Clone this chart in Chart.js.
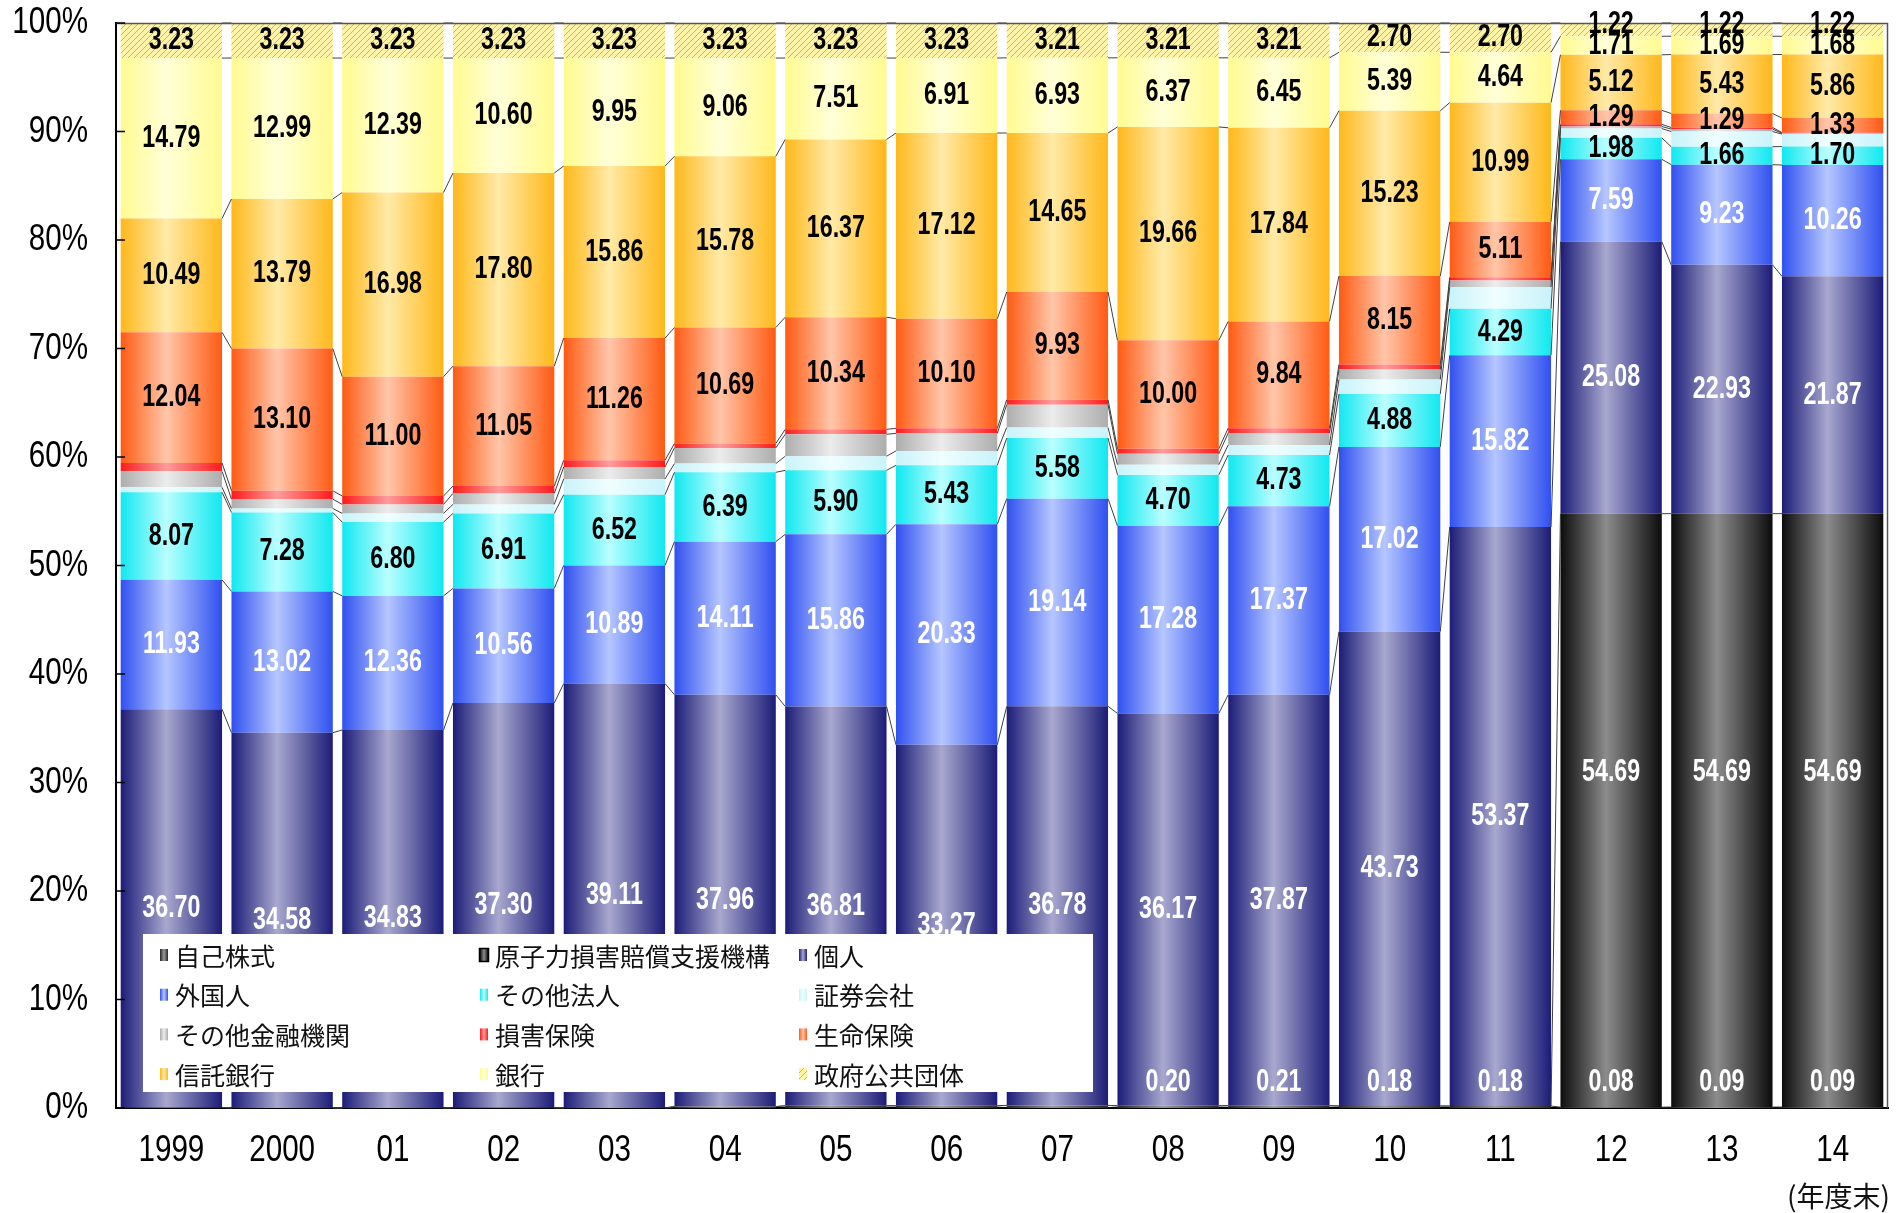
<!DOCTYPE html>
<html><head><meta charset="utf-8">
<script src="https://cdn.jsdelivr.net/npm/chart.js@4.4.0/dist/chart.umd.min.js"></script>
<style>html,body{margin:0;padding:0;background:#fff;}#wrap{width:1898px;height:1213px;position:relative;}</style>
</head><body><div id="wrap"><canvas id="c" width="1898" height="1213"></canvas></div>
<script>
// ---------- data ----------
const categories = ['1999','2000','01','02','03','04','05','06','07','08','09','10','11','12','13','14'];
const seriesNames = ['自己株式','原子力損害賠償支援機構','個人','外国人','その他法人','証券会社','その他金融機関','損害保険','生命保険','信託銀行','銀行','政府公共団体'];
const selfStock   = [0.05,0.01,0.01,0.03,0.01,0.13,0.20,0.20,0.24,0.20,0.21,0.18,0.18,0.08,0.09,0.09];
const ddfFund     = [0,0,0,0,0,0,0,0,0,0,0,0,0,54.69,54.69,54.69];
const individuals = [36.70,34.58,34.83,37.30,39.11,37.96,36.81,33.27,36.78,36.17,37.87,43.73,53.37,25.08,22.93,21.87];
const foreigners  = [11.93,13.02,12.36,10.56,10.89,14.11,15.86,20.33,19.14,17.28,17.37,17.02,15.82,7.59,9.23,10.26];
const otherCorps  = [8.07,7.28,6.80,6.91,6.52,6.39,5.90,5.43,5.58,4.70,4.73,4.88,4.29,1.98,1.66,1.70];
const securities  = [0.46,0.37,0.80,0.83,1.45,0.80,1.30,1.33,0.98,0.94,0.93,1.34,2.00,0.85,1.40,1.15];
const otherFin    = [1.47,0.86,0.83,1.01,1.10,1.45,2.02,1.62,2.10,1.00,1.09,0.91,0.60,0.19,0.22,0.08];
const nonLife     = [0.77,0.77,0.77,0.68,0.62,0.40,0.46,0.46,0.46,0.47,0.46,0.47,0.30,0.20,0.15,0.07];
const lifeIns     = [12.04,13.10,11.00,11.05,11.26,10.69,10.34,10.10,9.93,10.00,9.84,8.15,5.11,1.29,1.29,1.33];
const trustBanks  = [10.49,13.79,16.98,17.80,15.86,15.78,16.37,17.12,14.65,19.66,17.84,15.23,10.99,5.12,5.43,5.86];
const banks       = [14.79,12.99,12.39,10.60,9.95,9.06,7.51,6.91,6.93,6.37,6.45,5.39,4.64,1.71,1.69,1.68];
const government  = [3.23,3.23,3.23,3.23,3.23,3.23,3.23,3.23,3.21,3.21,3.21,2.70,2.70,1.22,1.22,1.22];
const yTicks = [0,10,20,30,40,50,60,70,80,90,100];
const unitNote = '(年度末)';

// ---------- fonts ----------
function hasFont(name){
  const c=document.createElement('canvas').getContext('2d');
  const s='0123456789.%WMmw';
  c.font='40px monospace'; const a=c.measureText(s).width;
  c.font='40px "'+name+'", monospace'; const b=c.measureText(s).width;
  return Math.abs(a-b)>0.5;
}
const NARROW = hasFont('Liberation Sans Narrow');
const NUM_FAMILY = NARROW ? '"Liberation Sans Narrow", "Liberation Sans", Arial, sans-serif' : '"Liberation Sans", Arial, sans-serif';
const LBL_SIZE = 31, LBL_SCALE = NARROW ? 0.91 : 0.75;
const TICK_SIZE = 37, TICK_SCALE = NARROW ? 0.98 : 0.8;
const CJK = '"Noto Sans CJK JP", "Noto Sans", sans-serif';

// ---------- styles ----------
const canvas = document.getElementById('c');
const mainCtx = canvas.getContext('2d');
function hatchPattern(){
  const c=document.createElement('canvas'); c.width=6; c.height=6;
  const g=c.getContext('2d');
  g.fillStyle='#fff3a8'; g.fillRect(0,0,6,6);
  g.strokeStyle='#d9b832'; g.lineWidth=1;
  g.beginPath();
  g.moveTo(0,6); g.lineTo(6,0);
  g.moveTo(-3,3); g.lineTo(3,-3);
  g.moveTo(3,9); g.lineTo(9,3);
  g.stroke();
  return mainCtx.createPattern(c,'repeat');
}
const HATCH = hatchPattern();
const BAR_PCT = 0.915;
function grad(edge, center){
  return (c)=>{
    const ch=c.chart, xs=ch.scales && ch.scales.x;
    if(!xs || c.dataIndex===undefined || !xs.width) return center;
    const cx=xs.getPixelForValue(c.dataIndex);
    const w=(xs.width/categories.length)*BAR_PCT;
    const g=ch.ctx.createLinearGradient(cx-w/2,0,cx+w/2,0);
    g.addColorStop(0,edge); g.addColorStop(0.45,center); g.addColorStop(1,edge);
    return g;
  };
}
const styles = [
  {edge:'#262626',center:'#9a9a9a',label:'#fff',show:true,mode:'bottom'},
  {edge:'#0c0c0c',center:'#8c8c8c',label:'#fff',show:true,shift:-38},
  {edge:'#1c1c78',center:'#a8a8cf',label:'#fff',show:true},
  {edge:'#3050f0',center:'#b6c6ff',label:'#fff',show:true},
  {edge:'#10e8f0',center:'#bafeff',label:'#000',show:true},
  {edge:'#c8f3fa',center:'#f0feff',label:'#000',show:false},
  {edge:'#adadad',center:'#ececec',label:'#000',show:false},
  {edge:'#ff1a1a',center:'#ff9c9c',label:'#000',show:false},
  {edge:'#ff5a12',center:'#ffc6aa',label:'#000',show:true},
  {edge:'#ffb81a',center:'#ffeaa8',label:'#000',show:true},
  {edge:'#fffb90',center:'#ffffd8',label:'#000',show:true},
  {edge:null,center:null,label:'#000',show:true,mode:'top'}
];
const seriesData = [selfStock,ddfFund,individuals,foreigners,otherCorps,securities,otherFin,nonLife,lifeIns,trustBanks,banks,government];
const datasets = seriesNames.map((name,i)=>{
  const st=styles[i];
  return {
    label:name, data:seriesData[i],
    backgroundColor: st.edge ? grad(st.edge, st.center) : HATCH,
    borderWidth:0,
    _st:st
  };
});

// ---------- plugin ----------
function drawText(ctx, txt, x, y, color, font, scale, align){
  ctx.save();
  ctx.translate(x,y); ctx.scale(scale,1);
  ctx.font=font;
  ctx.textAlign=align||'center'; ctx.textBaseline='middle';
  ctx.fillStyle=color;
  ctx.fillText(txt,0,0);
  ctx.restore();
}
const overlay = {
  id:'overlay',
  afterDatasetsDraw(chart){
    const ctx=chart.ctx, a=chart.chartArea;
    ctx.save();
    // series lines
    ctx.strokeStyle='#404040'; ctx.lineWidth=1;
    chart.data.datasets.forEach((ds,di)=>{
      const meta=chart.getDatasetMeta(di);
      for(let i=0;i<meta.data.length-1;i++){
        const p=meta.data[i], q=meta.data[i+1];
        ctx.beginPath(); ctx.moveTo(p.x+p.width/2,p.y); ctx.lineTo(q.x-q.width/2,q.y); ctx.stroke();
      }
    });
    // top and right border
    ctx.strokeStyle='#555'; ctx.lineWidth=1.5;
    ctx.beginPath(); ctx.moveTo(a.left,a.top+0.5); ctx.lineTo(a.right-0.5,a.top+0.5); ctx.lineTo(a.right-0.5,a.bottom); ctx.stroke();
    // inward y ticks
    const ys=chart.scales.y, xs=chart.scales.x;
    ctx.strokeStyle='#000'; ctx.lineWidth=1.5;
    ys.ticks.forEach(t=>{
      const y=ys.getPixelForValue(t.value);
      ctx.beginPath(); ctx.moveTo(a.left,y); ctx.lineTo(a.left+9,y); ctx.stroke();
    });
    // axis tick labels (compressed like the reference)
    const tf=TICK_SIZE+'px '+NUM_FAMILY;
    ys.ticks.forEach(t=>{
      const y=ys.getPixelForValue(t.value);
      drawText(ctx, t.value+'%', a.left-28, y, '#000', tf, TICK_SCALE, 'right');
    });
    xs.ticks.forEach((t,i)=>{
      const x=xs.getPixelForValue(t.value);
      drawText(ctx, xs.getLabelForValue(t.value), x, 1151, '#000', tf, TICK_SCALE, 'center');
    });
    // value labels
    const lf='bold '+LBL_SIZE+'px '+NUM_FAMILY;
    chart.data.datasets.forEach((ds,di)=>{
      const st=ds._st; if(!st.show) return;
      const meta=chart.getDatasetMeta(di);
      meta.data.forEach((el,i)=>{
        const v=ds.data[i]; if(!v) return;
        let cy=(el.y+el.base)/2;
        if(st.mode==='bottom') cy=el.base-26;
        if(st.shift) cy+=st.shift;
        if(st.mode==='top' && Math.abs(el.base-el.y)<20) cy=el.y+1;
        drawText(ctx, v.toFixed(2), el.x, cy, st.label, lf, LBL_SCALE, 'center');
      });
    });
    ctx.restore();
  },
  afterDraw(chart){
    const ctx=chart.ctx;
    ctx.save();
    // legend box
    const lx=143, ly=934, lw=950, lh=158;
    ctx.fillStyle='#fff'; ctx.fillRect(lx,ly,lw,lh);
    const colX=[164,484,803], rowY0=955, rowH=39.7;
    chart.data.datasets.forEach((ds,i)=>{
      const st=ds._st, col=i%3, row=Math.floor(i/3);
      const x=colX[col], y=rowY0+row*rowH;
      if(st.edge){
        const g=ctx.createLinearGradient(x-4,0,x+4,0);
        g.addColorStop(0,st.edge); g.addColorStop(0.5,st.center); g.addColorStop(1,st.edge);
        ctx.fillStyle=g;
      } else ctx.fillStyle=HATCH;
      ctx.fillRect(x-4,y-6,8,12);
      if(i===1){ ctx.strokeStyle='#000'; ctx.lineWidth=1.5; ctx.strokeRect(x-4.5,y-6.5,9,13); }
      ctx.fillStyle='#111';
      ctx.font='25px '+CJK;
      ctx.textAlign='left'; ctx.textBaseline='middle';
      ctx.fillText(ds.label, x+11, y+1);
    });
    // unit note
    ctx.font='28px '+CJK; ctx.fillStyle='#111';
    ctx.textAlign='right'; ctx.textBaseline='middle';
    ctx.fillText(unitNote, 1890, 1196);
    ctx.restore();
  }
};

new Chart(canvas, {
  type:'bar',
  data:{labels:categories, datasets},
  options:{
    responsive:false, animation:false, devicePixelRatio:1,
    layout:{padding:{left:0,right:10,top:23,bottom:0}},
    datasets:{bar:{categoryPercentage:1, barPercentage:BAR_PCT}},
    plugins:{legend:{display:false}, tooltip:{enabled:false}},
    scales:{
      x:{stacked:true,
         grid:{display:false,drawTicks:false},
         border:{display:true,color:'#000',width:2},
         ticks:{display:false,autoSkip:false,maxRotation:0},
         afterFit:(s)=>{s.height=105; s.paddingLeft=0; s.paddingRight=0;}},
      y:{stacked:true,min:0,max:100,
         grid:{display:false,drawTicks:false},
         border:{display:true,color:'#000',width:2},
         afterBuildTicks:(s)=>{s.ticks=yTicks.map(v=>({value:v}));},
         ticks:{display:false},
         afterFit:(s)=>{s.width=116; s.paddingTop=0; s.paddingBottom=0;}}
    }
  },
  plugins:[overlay]
});
</script></body></html>
